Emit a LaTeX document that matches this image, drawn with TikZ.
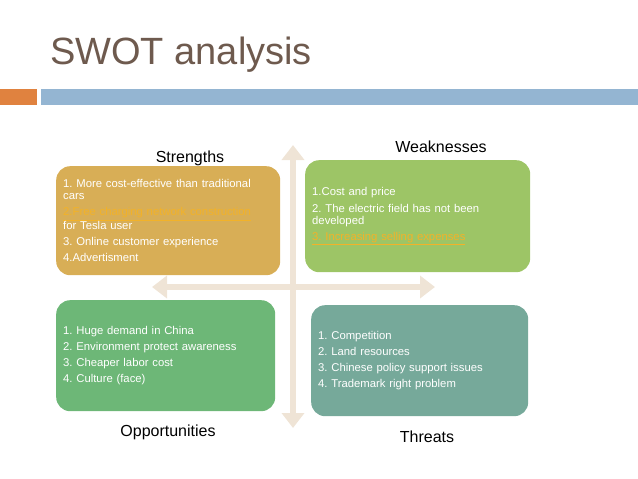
\documentclass[tikz,border=0pt]{standalone}
\usepackage{fontspec}
\setmainfont{Liberation Sans}
\usepackage{xcolor}
\usetikzlibrary{arrows.meta, positioning}
\definecolor{titlebrown}{HTML}{6E5A4E}
\definecolor{barorange}{HTML}{E0823F}
\definecolor{barblue}{HTML}{94B5D2}
\definecolor{sgold}{HTML}{D8AE56}
\definecolor{wgreen}{HTML}{9DC566}
\definecolor{ogreen}{HTML}{6DB777}
\definecolor{tteal}{HTML}{76A99A}
\definecolor{axiscream}{HTML}{EFE4D6}
\definecolor{linkorange}{HTML}{F2B229}
\newcommand{\swotlink}[1]{\textcolor{linkorange}{\underline{#1}}}
\frenchspacing

\begin{document}
\begin{tikzpicture}[x=1pt, y=-1pt,
        quad/.style={rectangle, rounded corners=14pt, anchor=north west, text=white, align=left,
            inner xsep=7pt, inner ysep=0pt, font=\fontsize{11.3}{12.2}\selectfont},
        caption/.style={font=\fontsize{16}{18}\selectfont, text=black},
        axis/.style={{Triangle[width=22pt, length=15pt]}-{Triangle[width=22pt, length=15pt]}, line width=6pt, draw=axiscream}
    ]
        \useasboundingbox (0,0) rectangle (638,479);
        \node[anchor=base west, inner sep=0pt, text=titlebrown, font=\fontsize{38}{40}\selectfont] (title) at (50,64.5) {SWOT analysis};
        \fill[barorange] (0,89) rectangle (37,105);
        \fill[barblue] (41,89) rectangle (638,105);

        \coordinate (vtop) at (293,145);
        \coordinate (vbot) at (293,428);
        \coordinate (hleft) at (152,287);
        \coordinate (hright) at (435,287);
        \draw[axis] (vtop) -- (vbot);
        \draw[axis] (hleft) -- (hright);

        \node[quad, fill=sgold, minimum width=224pt, minimum height=109pt, text width=210pt] (strengths) at (56,166)
            {1. More cost-effective than traditional\\cars\\[4pt]
             \swotlink{2.Free charging network construction}\\for Tesla user\\[4pt]
             3. Online customer experience\\[4pt]
             4.Advertisment};
        \node[quad, fill=wgreen, minimum width=225pt, minimum height=112pt, text width=211pt] (weaknesses) at (305,160)
            {1.Cost and price\\[4.5pt]
             2. The electric field has not been\\developed\\[4.5pt]
             \swotlink{3. Increasing selling expenses}};
        \node[quad, fill=ogreen, minimum width=219pt, minimum height=111pt, text width=205pt] (opportunities) at (56,300)
            {1. Huge demand in China\\[3.7pt]
             2. Environment protect awareness\\[3.7pt]
             3. Cheaper labor cost\\[3.7pt]
             4. Culture (face)};
        \node[quad, fill=tteal, minimum width=217pt, minimum height=111pt, text width=203pt] (threats) at (311,305)
            {1. Competition\\[3.7pt]
             2. Land resources\\[3.7pt]
             3. Chinese policy support issues\\[3.7pt]
             4. Trademark right problem};

        \node[caption] (slabel) at (190,158) {Strengths};
        \node[caption] (wlabel) at (441,147) {Weaknesses};
        \node[caption] (olabel) at (168,432) {Opportunities};
        \node[caption] (tlabel) at (427,437) {Threats};
    \end{tikzpicture}
\end{document}
